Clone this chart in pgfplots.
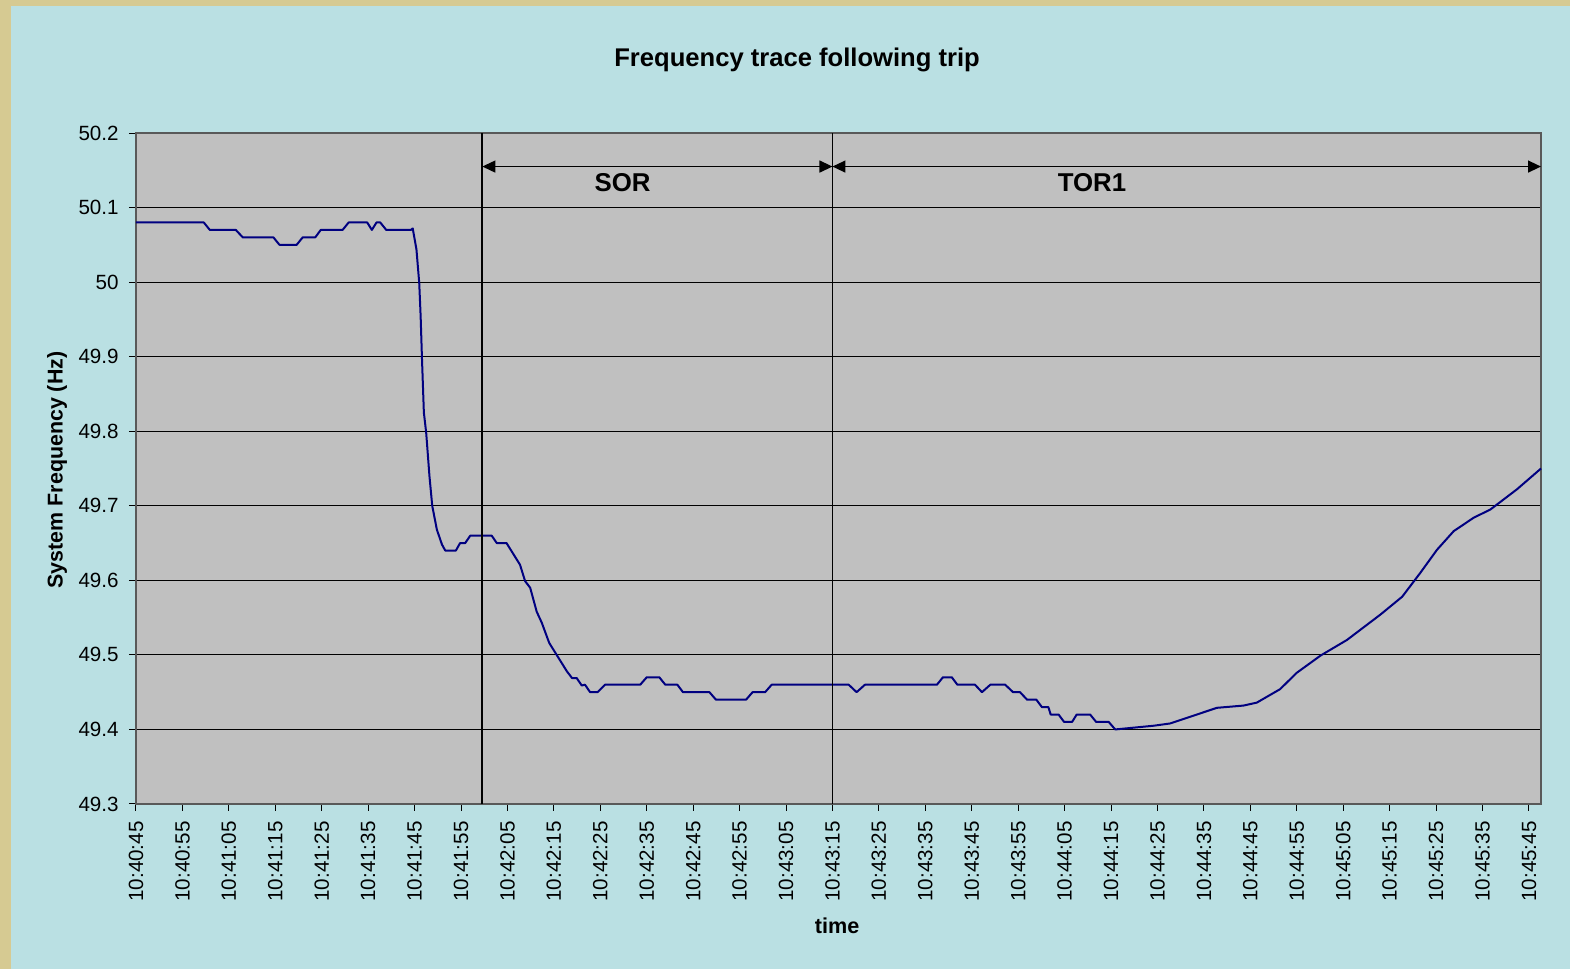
\documentclass[border=0pt]{standalone}
\usepackage{pgfplots}
\pgfplotsset{compat=1.18}
\usepackage{fontspec}
\setmainfont{Liberation Sans}
\usetikzlibrary{arrows.meta}
\definecolor{bgblue}{RGB}{186,224,227}
\definecolor{bgtan}{RGB}{214,202,146}
\definecolor{plotgrey}{RGB}{192,192,192}
\definecolor{navyline}{RGB}{0,0,128}
\begin{document}
\begin{tikzpicture}
\fill[bgtan] (-68pt,-82.5pt) rectangle (717pt,402pt);
\fill[bgblue] (-62.5pt,-82.5pt) rectangle (717pt,399pt);
\begin{axis}[
  scale only axis,
  width=702.5pt, height=335.5pt,
  at={(0,0)}, anchor=south west,
  xmin=0, xmax=302.6, ymin=49.3, ymax=50.2,
  axis background/.style={fill=plotgrey},
  axis line style={draw=gray!70!black, line width=0.6pt},
  clip=false,
  ytick={49.3,49.4,...,50.2},
  xtick={0,10,...,300},
  xticklabels={10:40:45,10:40:55,10:41:05,10:41:15,10:41:25,10:41:35,10:41:45,10:41:55,10:42:05,10:42:15,10:42:25,10:42:35,10:42:45,10:42:55,10:43:05,10:43:15,10:43:25,10:43:35,10:43:45,10:43:55,10:44:05,10:44:15,10:44:25,10:44:35,10:44:45,10:44:55,10:45:05,10:45:15,10:45:25,10:45:35,10:45:45},
  tick align=outside,
  major tick length=3.5pt,
  tick style={black, line width=0.5pt},
  xtick pos=bottom, ytick pos=left,
  ymajorgrids,
  major grid style={black, line width=0.55pt},
  /pgf/number format/assume math mode=true,
  yticklabel={\pgfmathprintnumber[fixed,precision=1]{\tick}},
  tick label style={font=\fontsize{10.3}{12}\selectfont},
  xticklabel style={rotate=90, anchor=east, inner sep=0pt},
  yticklabel style={anchor=east, inner sep=0pt},
  xticklabel shift=5pt,
  yticklabel shift=5pt,
  title={Frequency trace following trip},
  title style={font=\fontsize{12.8}{15}\selectfont\bfseries, at={(axis description cs:0.4705,1.091)}, anchor=center},
  xlabel={time},
  xlabel style={font=\fontsize{10.8}{13}\selectfont\bfseries, at={(axis description cs:0.499,-0.1818)}, anchor=center},
  ylabel={System Frequency (Hz)},
  ylabel style={font=\fontsize{10.7}{13}\selectfont\bfseries, at={(axis description cs:-0.0562,0.4978)}, anchor=center, rotate=0},
]
\addplot[navyline, line width=1pt, line join=round, mark=none] coordinates {
(0,50.08) (14.6,50.08) (15.9,50.07) (21.5,50.07) (23.0,50.06) (29.6,50.06)
(30.9,50.05) (34.6,50.05) (35.9,50.06) (38.6,50.06) (39.8,50.07) (44.5,50.07)
(45.8,50.08) (49.8,50.08) (50.8,50.07) (51.8,50.08) (52.6,50.08) (53.9,50.07)
(59.2,50.07) (59.6,50.072) (60.4,50.044) (61.0,49.999) (61.3,49.955) (61.6,49.896)
(62.0,49.825) (62.5,49.798) (63.2,49.74) (63.8,49.70) (64.8,49.668) (65.9,49.648)
(66.6,49.64) (68.9,49.64) (69.8,49.65) (70.9,49.65) (72.0,49.66) (76.6,49.66)
(77.7,49.65) (79.8,49.65) (82.7,49.621) (83.8,49.599) (84.9,49.59) (86.3,49.558)
(87.4,49.543) (89.0,49.516) (91.0,49.496) (92.8,49.478) (93.9,49.469) (94.9,49.469)
(96.0,49.459) (96.7,49.46) (97.8,49.45) (99.4,49.45) (101.0,49.46) (108.6,49.46)
(110.0,49.47) (112.7,49.47) (114.0,49.46) (116.6,49.46) (117.8,49.45) (123.5,49.45)
(124.9,49.44) (131.4,49.44) (132.8,49.45) (135.5,49.45) (136.9,49.46) (153.5,49.46)
(155.2,49.45) (157.0,49.46) (172.5,49.46) (173.8,49.47) (175.7,49.47) (176.9,49.46)
(180.7,49.46) (182.2,49.45) (184.0,49.46) (187.2,49.46) (188.9,49.45) (190.4,49.45)
(191.9,49.44) (193.9,49.44) (195.1,49.43) (196.5,49.43) (197.0,49.42) (198.7,49.42)
(199.9,49.41) (201.6,49.41) (202.6,49.42) (205.5,49.42) (206.8,49.41) (209.5,49.41)
(210.9,49.40) (219.2,49.405) (222.7,49.408) (232.8,49.429) (238.5,49.432) (241.4,49.436)
(246.4,49.454) (250.0,49.476) (255.1,49.499) (260.8,49.520) (268.0,49.554) (272.7,49.578)
(276.6,49.610) (280.2,49.641) (283.8,49.666) (288.1,49.684) (291.7,49.695) (297.4,49.722)
(302.6,49.750)
};
\draw[black, line width=0.9pt] (axis cs:74.6,49.3) -- (axis cs:74.6,50.2);
\draw[black, line width=0.9pt] (axis cs:150,49.3) -- (axis cs:150,50.2);
\draw[black, line width=0.7pt, {Triangle[length=6.5pt,width=6pt]}-{Triangle[length=6.5pt,width=6pt]}] (axis cs:74.6,50.155) -- (axis cs:150,50.155);
\draw[black, line width=0.7pt, {Triangle[length=6.5pt,width=6pt]}-{Triangle[length=6.5pt,width=6pt]}] (axis cs:150,50.155) -- (axis cs:302.6,50.155);
\node[font=\fontsize{12.9}{15}\selectfont\bfseries] at (axis cs:104.8,50.134) {SOR};
\node[font=\fontsize{12.9}{15}\selectfont\bfseries] at (axis cs:205.9,50.134) {TOR1};
\end{axis}
\end{tikzpicture}
\end{document}
